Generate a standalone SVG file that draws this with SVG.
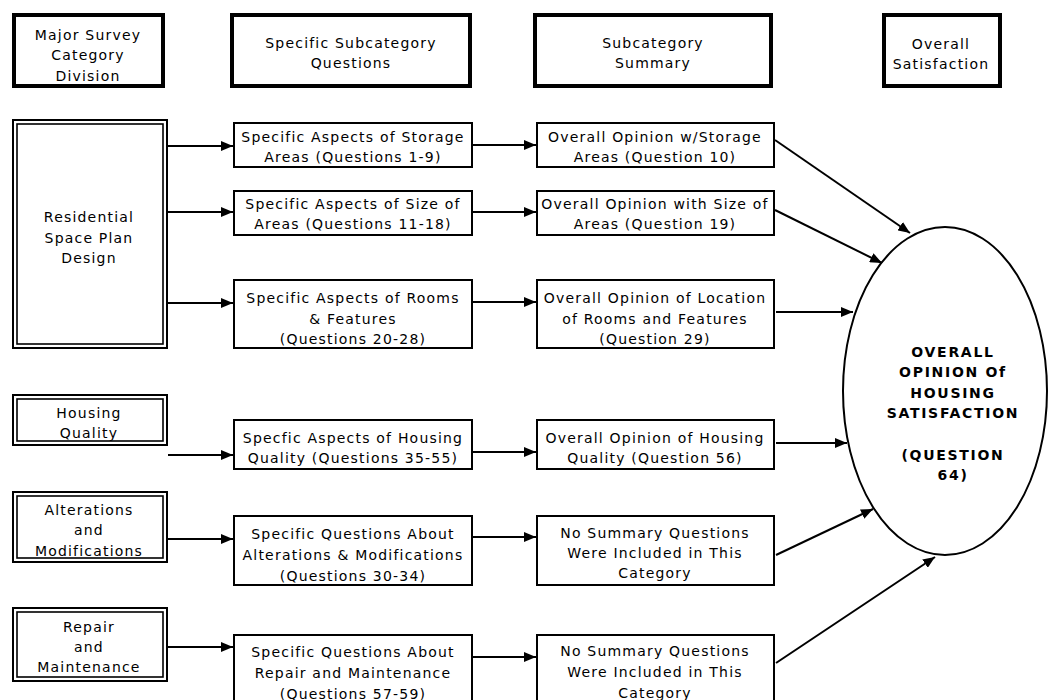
<svg xmlns="http://www.w3.org/2000/svg" width="1050" height="700" viewBox="0 0 1050 700">
<style>
text{font-family:"DejaVu Sans",Verdana,sans-serif;font-size:14px;letter-spacing:1.2px;fill:#000;text-anchor:middle}
.hdr{fill:#fff;stroke:#000;stroke-width:4}
.dbo{fill:#fff;stroke:#000;stroke-width:2}
.dbi{fill:none;stroke:#000;stroke-width:1.6}
.box{fill:#fff;stroke:#000;stroke-width:2}
.big{font-weight:bold;font-size:14px;letter-spacing:1.7px}
.c line{stroke:#000;stroke-width:2;marker-end:url(#ah)}
</style>
<defs>
<marker id="ah" viewBox="0 0 12 10" refX="12" refY="5" markerWidth="12" markerHeight="10" markerUnits="userSpaceOnUse" orient="auto">
<path d="M0,0 L12,5 L0,10 Z" fill="#000"/>
</marker>
</defs>
<rect width="1050" height="700" fill="#fff"/>

<g id="h1"><rect class="hdr" x="14" y="15" width="149" height="71"/>
<text x="88" y="40">Major Survey</text><text x="88" y="60">Category</text><text x="88" y="81">Division</text></g>
<g id="h2"><rect class="hdr" x="232" y="15" width="238" height="71"/>
<text x="351" y="48">Specific Subcategory</text><text x="351" y="68">Questions</text></g>
<g id="h3"><rect class="hdr" x="535" y="15" width="236" height="71"/>
<text x="653" y="48">Subcategory</text><text x="653" y="68">Summary</text></g>
<g id="h4"><rect class="hdr" x="884" y="15" width="116" height="71"/>
<text x="941" y="49">Overall</text><text x="941" y="69">Satisfaction</text></g>

<g id="residential"><rect class="dbo" x="13" y="120" width="154" height="228"/><rect class="dbi" x="17" y="124" width="146" height="220"/>
<text x="89" y="222">Residential</text><text x="89" y="243">Space Plan</text><text x="89" y="263">Design</text></g>
<g id="housing"><rect class="dbo" x="13" y="395" width="154" height="50"/><rect class="dbi" x="17" y="399" width="146" height="42"/>
<text x="89" y="418">Housing</text><text x="89" y="438">Quality</text></g>
<g id="alterations"><rect class="dbo" x="13" y="492" width="154" height="70"/><rect class="dbi" x="17" y="496" width="146" height="62"/>
<text x="89" y="515">Alterations</text><text x="89" y="535">and</text><text x="89" y="556">Modifications</text></g>
<g id="repair"><rect class="dbo" x="13" y="608" width="154" height="73"/><rect class="dbi" x="17" y="612" width="146" height="65"/>
<text x="89" y="632">Repair</text><text x="89" y="652">and</text><text x="89" y="672">Maintenance</text></g>

<g id="q1"><rect class="box" x="234" y="123" width="238" height="44"/>
<text x="353" y="142">Specific Aspects of Storage</text><text x="353" y="162">Areas (Questions 1-9)</text></g>
<g id="q2"><rect class="box" x="234" y="191" width="238" height="44"/>
<text x="353" y="209">Specific Aspects of Size of</text><text x="353" y="229">Areas (Questions 11-18)</text></g>
<g id="q3"><rect class="box" x="234" y="280" width="238" height="68"/>
<text x="353" y="303">Specific Aspects of Rooms</text><text x="353" y="324">&amp; Features</text><text x="353" y="344">(Questions 20-28)</text></g>
<g id="q4"><rect class="box" x="234" y="420" width="238" height="49"/>
<text x="353" y="443">Specfic Aspects of Housing</text><text x="353" y="463">Quality (Questions 35-55)</text></g>
<g id="q5"><rect class="box" x="234" y="516" width="238" height="69"/>
<text x="353" y="539">Specific Questions About</text><text x="353" y="560">Alterations &amp; Modifications</text><text x="353" y="581">(Questions 30-34)</text></g>
<g id="q6"><rect class="box" x="234" y="635" width="238" height="70"/>
<text x="353" y="657">Specific Questions About</text><text x="353" y="678">Repair and Maintenance</text><text x="353" y="699">(Questions 57-59)</text></g>

<g id="s1"><rect class="box" x="537" y="123" width="237" height="44"/>
<text x="655" y="142">Overall Opinion w/Storage</text><text x="655" y="162">Areas (Question 10)</text></g>
<g id="s2"><rect class="box" x="537" y="191" width="237" height="44"/>
<text x="655" y="209">Overall Opinion with Size of</text><text x="655" y="229">Areas (Question 19)</text></g>
<g id="s3"><rect class="box" x="537" y="280" width="237" height="68"/>
<text x="655" y="303">Overall Opinion of Location</text><text x="655" y="324">of Rooms and Features</text><text x="655" y="344">(Question 29)</text></g>
<g id="s4"><rect class="box" x="537" y="420" width="237" height="49"/>
<text x="655" y="443">Overall Opinion of Housing</text><text x="655" y="463">Quality (Question 56)</text></g>
<g id="s5"><rect class="box" x="537" y="516" width="237" height="69"/>
<text x="655" y="538">No Summary Questions</text><text x="655" y="558">Were Included in This</text><text x="655" y="578">Category</text></g>
<g id="s6"><rect class="box" x="537" y="635" width="237" height="70"/>
<text x="655" y="656">No Summary Questions</text><text x="655" y="677">Were Included in This</text><text x="655" y="698">Category</text></g>

<g id="overall"><ellipse cx="945" cy="391" rx="102" ry="164" fill="#fff" stroke="#000" stroke-width="2"/>
<text class="big" x="953" y="357">OVERALL</text><text class="big" x="953" y="377">OPINION Of</text><text class="big" x="953" y="398">HOUSING</text><text class="big" x="953" y="418">SATISFACTION</text>
<text class="big" x="953" y="460">(QUESTION</text><text class="big" x="953" y="480">64)</text></g>

<g id="connectors" class="c">
<line x1="167" y1="146" x2="233" y2="146"/>
<line x1="167" y1="212" x2="233" y2="212"/>
<line x1="167" y1="303" x2="233" y2="303"/>
<line x1="168" y1="455" x2="233" y2="455"/>
<line x1="167" y1="539" x2="233" y2="539"/>
<line x1="168" y1="647" x2="233" y2="647"/>
<line x1="473" y1="145" x2="536" y2="145"/>
<line x1="473" y1="212" x2="536" y2="212"/>
<line x1="473" y1="302" x2="536" y2="302"/>
<line x1="473" y1="452" x2="536" y2="452"/>
<line x1="473" y1="537" x2="536" y2="537"/>
<line x1="473" y1="657" x2="536" y2="657"/>
<line x1="775" y1="140" x2="910" y2="233"/>
<line x1="775" y1="210" x2="882" y2="263"/>
<line x1="776" y1="312" x2="853" y2="312"/>
<line x1="776" y1="443" x2="847" y2="443"/>
<line x1="776" y1="555" x2="873" y2="509"/>
<line x1="776" y1="663" x2="935" y2="557"/>
</g>
</svg>
